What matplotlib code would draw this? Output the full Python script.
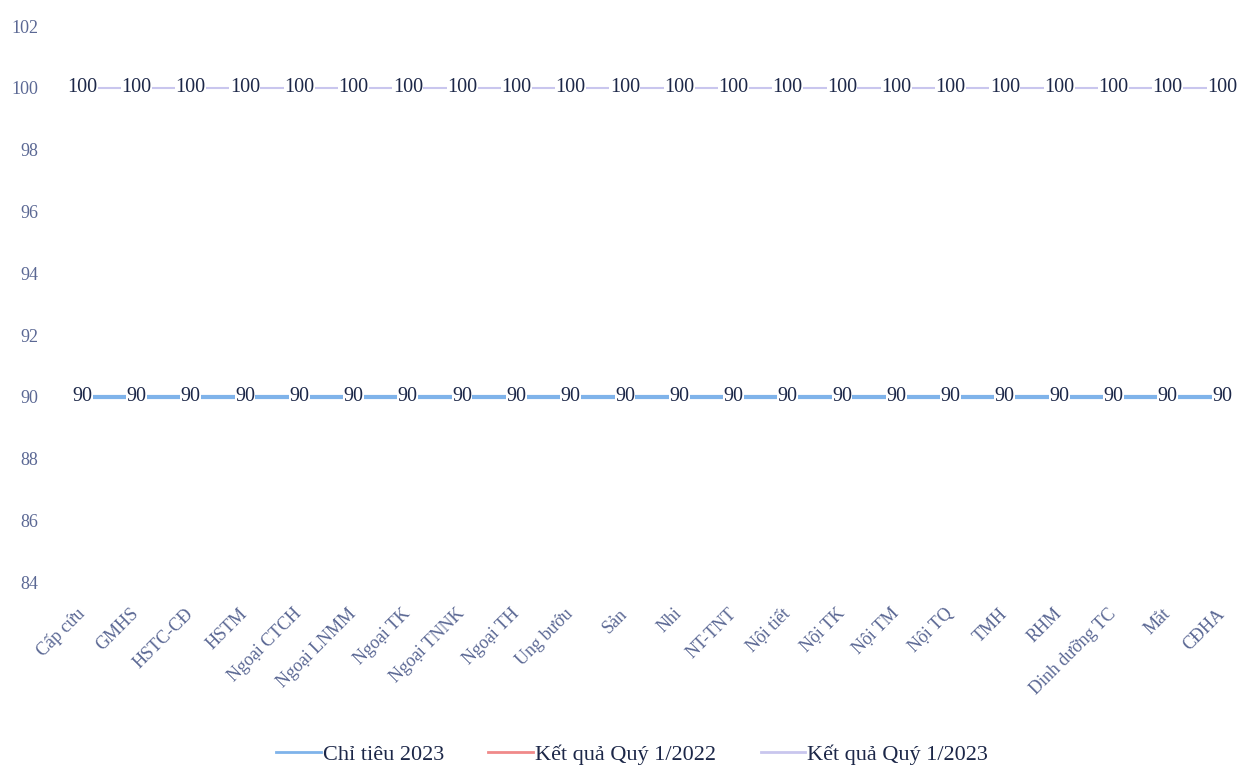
import numpy as np
import matplotlib
matplotlib.use("Agg")
import matplotlib.pyplot as plt

plt.rcParams['font.family'] = ['Liberation Serif', 'DejaVu Serif']

khoa = ["Cấp cứu", "GMHS", "HSTC-CĐ", "HSTM", "Ngoại CTCH", "Ngoại LNMM",
        "Ngoại TK", "Ngoại TNNK", "Ngoại TH", "Ung bướu", "Sản", "Nhi",
        "NT-TNT", "Nội tiết", "Nội TK", "Nội TM", "Nội TQ", "TMH", "RHM",
        "Dinh dưỡng TC", "Mắt", "CĐHA"]
chi_tieu_2023 = [90] * 22
kq_quy1_2022 = [np.nan] * 22   # no values for this quarter
kq_quy1_2023 = [100] * 22

label_col = "#1c2748"
tick_col = "#5b6894"

fig = plt.figure(figsize=(12.42, 7.71), dpi=100)
ax = fig.add_axes([0.053, 0.245, 0.944, 0.721])

x = np.arange(len(khoa))
ax.plot(x, chi_tieu_2023, color="#7fb3ea", lw=3, label="Chỉ tiêu 2023", zorder=2)
ax.plot(x, kq_quy1_2022, color="#f08a8a", lw=2, label="Kết quả Quý 1/2022", zorder=2)
ax.plot(x, kq_quy1_2023, color="#c9c6ee", lw=1.5, label="Kết quả Quý 1/2023", zorder=2)

for series in (chi_tieu_2023, kq_quy1_2023):
    for xi, v in zip(x, series):
        ax.text(xi, v, f"{v:g}", ha="center", va="center", fontsize=14.5,
                color=label_col, zorder=3,
                bbox=dict(boxstyle="square,pad=0.02", fc="white", ec="none"))

ax.set_xlim(-0.3, 21.3)
ax.set_ylim(84, 102)
ax.set_yticks(np.arange(84, 103, 2))
ax.set_xticks(x)
ax.set_xticklabels(khoa, rotation=45, ha="right", va="center",
                   rotation_mode="anchor")
ax.tick_params(axis="both", length=0, labelsize=13, colors=tick_col)
ax.tick_params(axis="x", pad=21)
ax.tick_params(axis="y", pad=20)
for s in ax.spines.values():
    s.set_visible(False)

leg = ax.legend(loc="lower center", bbox_to_anchor=(0.483, -0.365), ncol=3,
                frameon=False, fontsize=16, handlelength=2.0, handletextpad=0.1,
                columnspacing=2.0, labelcolor=label_col)
for h in leg.get_lines():
    h.set_linewidth(2)

fig.savefig("out.png", dpi=100)
